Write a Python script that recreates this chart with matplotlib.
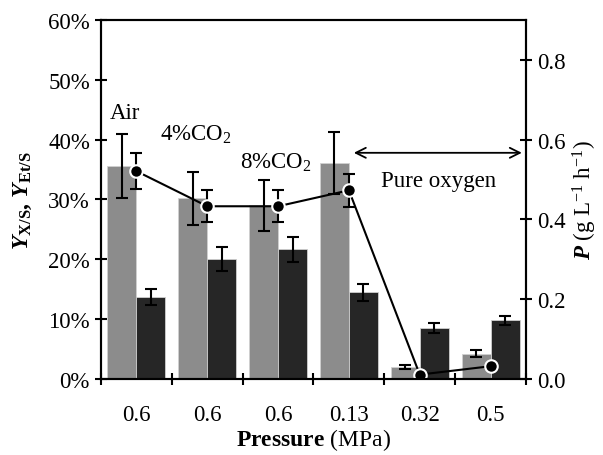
import numpy as np
import matplotlib.pyplot as plt

plt.rcParams['font.family'] = 'Liberation Serif'
plt.rcParams['mathtext.fontset'] = 'custom'
plt.rcParams['mathtext.rm'] = 'Liberation Serif'
plt.rcParams['mathtext.it'] = 'Liberation Serif:italic'
plt.rcParams['mathtext.bf'] = 'Liberation Serif:bold'
plt.rcParams['mathtext.bfit'] = 'Liberation Serif:italic:bold'

# data
pressure_labels = ['0.6', '0.6', '0.6', '0.13', '0.32', '0.5']
yxs = [0.356, 0.302, 0.290, 0.361, 0.020, 0.042]
yxs_err = [0.053, 0.044, 0.042, 0.052, 0.003, 0.006]
yets = [0.137, 0.201, 0.217, 0.145, 0.085, 0.098]
yets_err = [0.013, 0.020, 0.021, 0.014, 0.008, 0.008]
prod = [0.521, 0.433, 0.433, 0.473, 0.011, 0.032]
prod_err = [0.045, 0.040, 0.040, 0.041, 0.0, 0.0]

x = np.arange(len(pressure_labels))
w = 0.41

fig = plt.figure(figsize=(6.03, 4.56), dpi=100)
ax = fig.add_axes([0.1675, 0.1667, 0.7048, 0.7873])

ax.bar(x - w / 2, yxs, w, color='#8c8c8c', edgecolor='#d0d0d0', linewidth=0.6)
ax.bar(x + w / 2, yets, w, color='#262626', edgecolor='#d0d0d0', linewidth=0.6)
ax.errorbar(x - w / 2, yxs, yerr=yxs_err, fmt='none', ecolor='black',
            elinewidth=1.5, capsize=4, capthick=1.5)
ax.errorbar(x + w / 2, yets, yerr=yets_err, fmt='none', ecolor='black',
            elinewidth=1.5, capsize=4, capthick=1.5)

ax.set_xlim(-0.5, 5.5)
ax.set_ylim(0, 0.6)
ax.set_yticks(np.arange(0, 0.61, 0.1))
ax.set_yticklabels(['%d%%' % round(v * 100) for v in np.arange(0, 0.61, 0.1)])
ax.set_xticks(x)
ax.set_xticklabels(pressure_labels)
ax.set_xticks(np.arange(-0.5, 5.6, 1), minor=True)
ax.tick_params(axis='x', which='major', length=0, labelsize=16.5, pad=18)
ax.tick_params(axis='x', which='minor', direction='inout', length=9, width=1.5)
ax.tick_params(axis='y', direction='inout', length=9, width=1.5, labelsize=16.5)
for s in ax.spines.values():
    s.set_linewidth(1.5)

ax.set_xlabel(r'$\mathbf{Pressure}$ (MPa)', fontsize=17, labelpad=1)
ax.set_ylabel(r'$\mathbfit{Y}_{\mathbf{X/S}}\mathbf{,}\ \mathbfit{Y}_{\mathbf{Et/S}}$',
              fontsize=17, labelpad=10)

ax2 = ax.twinx()
ax2.errorbar(x, prod, yerr=prod_err, color='black', linewidth=1.5, marker='o',
             markersize=9, markerfacecolor='black', markeredgecolor='white',
             markeredgewidth=1.5, ecolor='black', elinewidth=1.5, capsize=4,
             capthick=1.5)
ax2.set_ylim(0, 0.9)
ax2.set_yticks(np.arange(0, 0.81, 0.2))
ax2.set_yticklabels(['%.1f' % v for v in np.arange(0, 0.81, 0.2)])
ax2.tick_params(axis='y', direction='inout', length=9, width=1.5, labelsize=16.5)
for s in ax2.spines.values():
    s.set_linewidth(1.5)
ax2.set_ylabel(r'$\mathbfit{P}$ (g L$^{\mathregular{-1}}$ h$^{\mathregular{-1}}$)',
               fontsize=16.5, labelpad=4)

ax.text(-0.16, 0.446, 'Air', fontsize=16.5, ha='center', va='center')
ax.text(0.84, 0.41, r'4%CO$_2$', fontsize=16.5, ha='center', va='center')
ax.text(1.97, 0.363, r'8%CO$_2$', fontsize=16.5, ha='center', va='center')
ax.text(4.27, 0.331, 'Pure oxygen', fontsize=16.5, ha='center', va='center')
ax.annotate('', xy=(3.03, 0.378), xytext=(5.48, 0.378),
            arrowprops=dict(arrowstyle='<->', color='black', lw=1.3,
                            mutation_scale=18))

fig.savefig('out.png', dpi=100)
